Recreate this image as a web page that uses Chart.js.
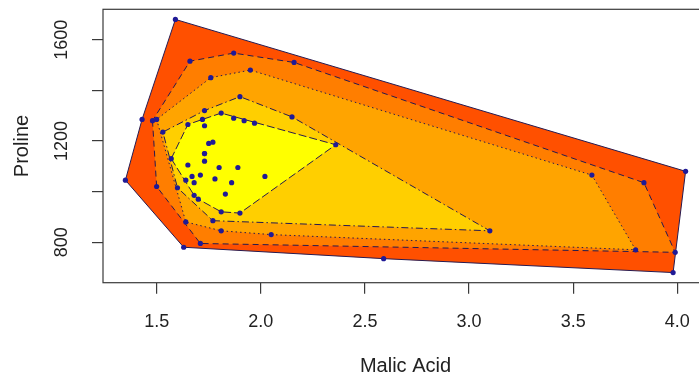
<!DOCTYPE html>
<html>
<head>
<title>Proline vs Malic Acid - convex hull layers</title>
<script src="https://cdn.jsdelivr.net/npm/chart.js"></script>
<style>
  body { margin: 0; overflow: hidden; background: #fff; }
</style>
</head>
<body>
<canvas id="hullChart" width="720" height="378"></canvas>
<script>
// wine samples, class 1
const malicAcid = [1.71, 1.78, 2.36, 1.95, 2.59, 1.76, 1.87, 2.15, 1.64, 1.35,
                   2.16, 1.48, 1.73, 1.73, 1.87, 1.81, 1.92, 1.57, 1.59, 3.10,
                   1.63, 3.80, 1.86, 1.60, 1.81, 2.05, 1.77, 1.72, 1.90, 1.68,
                   1.50, 1.66, 1.83, 1.53, 1.80, 1.81, 1.64, 1.65, 1.50, 3.99,
                   1.71, 3.84, 1.89, 3.98, 1.77, 4.04, 3.59, 1.68, 2.02, 1.73,
                   1.73, 1.65, 1.75, 1.90, 1.67, 1.73, 1.70, 1.97, 1.43];
const proline = [1065, 1050, 1185, 1480, 735, 1450, 1290, 1295, 1045, 1045,
                 1510, 1280, 1320, 1150, 1547, 1310, 1280, 1130, 1680, 845,
                 780, 770, 1035, 1015, 845, 830, 1195, 1285, 915, 1035,
                 1285, 1515, 990, 1235, 1095, 920, 880, 1105, 1020, 760,
                 795, 1035, 1095, 680, 885, 1080, 1065, 985, 1060, 1260,
                 1150, 1265, 1190, 1375, 1060, 1120, 970, 1270, 1285];

const xTicks = [1.5, 2.0, 2.5, 3.0, 3.5, 4.0];
const yTicks = [800, 1000, 1200, 1400, 1600];
const yLabelled = [800, 1200, 1600];

// one colour and line type per hull layer, outermost first
const layerColors = ['#ff5000', '#ff7e00', '#ffa400', '#ffcf00', '#ffff00'];
const layerDashes = [[], [6, 4], [1.5, 3], [1.5, 3, 7, 3], [8, 3]];
const lineColor = '#261a50';
const pointColor = '#201a96';
const tickFont = { family: '"Liberation Sans", Arial, sans-serif', size: 18 };
const titleFont = { family: '"Liberation Sans", Arial, sans-serif', size: 20 };

// monotone chain hull over a set of sample indices
function hull(idx) {
  const pts = idx.slice().sort((a, b) => malicAcid[a] - malicAcid[b] || proline[a] - proline[b]);
  const cross = (o, a, b) =>
    (malicAcid[a] - malicAcid[o]) * (proline[b] - proline[o]) -
    (proline[a] - proline[o]) * (malicAcid[b] - malicAcid[o]);
  const lower = [], upper = [];
  for (const p of pts) {
    while (lower.length >= 2 && cross(lower[lower.length - 2], lower[lower.length - 1], p) <= 0) lower.pop();
    lower.push(p);
  }
  for (const p of pts.reverse()) {
    while (upper.length >= 2 && cross(upper[upper.length - 2], upper[upper.length - 1], p) <= 0) upper.pop();
    upper.push(p);
  }
  return lower.slice(0, -1).concat(upper.slice(0, -1));
}

// peel the hulls layer by layer
let remaining = malicAcid.map((_, i) => i);
const layers = [];
for (let k = 0; k < layerColors.length; k++) {
  const h = hull(remaining);
  layers.push(h);
  remaining = remaining.filter(i => !h.includes(i));
}

const datasets = layers.map((h, k) => {
  const pts = h.map(i => ({ x: malicAcid[i], y: proline[i] }));
  pts.push(pts[0]);
  return {
    data: pts,
    showLine: true,
    fill: 'shape',
    backgroundColor: layerColors[k],
    borderColor: lineColor,
    borderWidth: 1,
    borderDash: layerDashes[k],
    pointRadius: 0,
    tension: 0,
    order: layerColors.length - k
  };
});

datasets.push({
  data: malicAcid.map((x, i) => ({ x: x, y: proline[i] })),
  pointRadius: 2.6,
  pointBackgroundColor: pointColor,
  pointBorderWidth: 0,
  showLine: false,
  order: 0
});

const frame = {
  id: 'frame',
  afterDraw(chart) {
    const { ctx, chartArea: a } = chart;
    ctx.save();
    ctx.strokeStyle = '#3a3a3a';
    ctx.lineWidth = 1.2;
    ctx.strokeRect(a.left, a.top, a.right - a.left, a.bottom - a.top);
    ctx.restore();
  }
};

new Chart(document.getElementById('hullChart'), {
  type: 'scatter',
  data: { datasets: datasets },
  plugins: [frame],
  options: {
    responsive: false,
    animation: false,
    layout: { padding: { top: 9.3, right: 12, left: 0, bottom: 0 } },
    plugins: {
      legend: { display: false },
      tooltip: { enabled: false },
      filler: { drawTime: 'beforeDatasetDraw' }
    },
    scales: {
      x: {
        type: 'linear',
        min: 1.2424,
        max: 4.1476,
        afterBuildTicks: s => { s.ticks = xTicks.map(v => ({ value: v })); },
        afterFit: s => { s.height = 95.3; s.paddingLeft = 0; s.paddingRight = 0; },
        grid: { drawOnChartArea: false, tickLength: 11, color: '#3a3a3a', lineWidth: 1.2 },
        border: { display: false },
        ticks: {
          font: tickFont, color: '#222', padding: 18, maxRotation: 0, autoSkip: false,
          callback: v => v.toFixed(1)
        },
        title: { display: true, text: 'Malic Acid', font: titleFont, color: '#222', padding: { top: 0, bottom: 0 } }
      },
      y: {
        type: 'linear',
        min: 640,
        max: 1720,
        afterBuildTicks: s => { s.ticks = yTicks.map(v => ({ value: v })); },
        afterFit: s => { s.width = 103; s.paddingTop = 0; s.paddingBottom = 0; },
        grid: { drawOnChartArea: false, tickLength: 11, color: '#3a3a3a', lineWidth: 1.2 },
        border: { display: false },
        ticks: {
          font: tickFont, color: '#222', padding: 10, minRotation: 90, maxRotation: 90,
          crossAlign: 'center', autoSkip: false,
          callback: v => yLabelled.includes(v) ? String(v) : ''
        },
        title: { display: true, text: 'Proline', font: titleFont, color: '#222', padding: { top: 10, bottom: 0 } }
      }
    }
  }
});
</script>
</body>
</html>
